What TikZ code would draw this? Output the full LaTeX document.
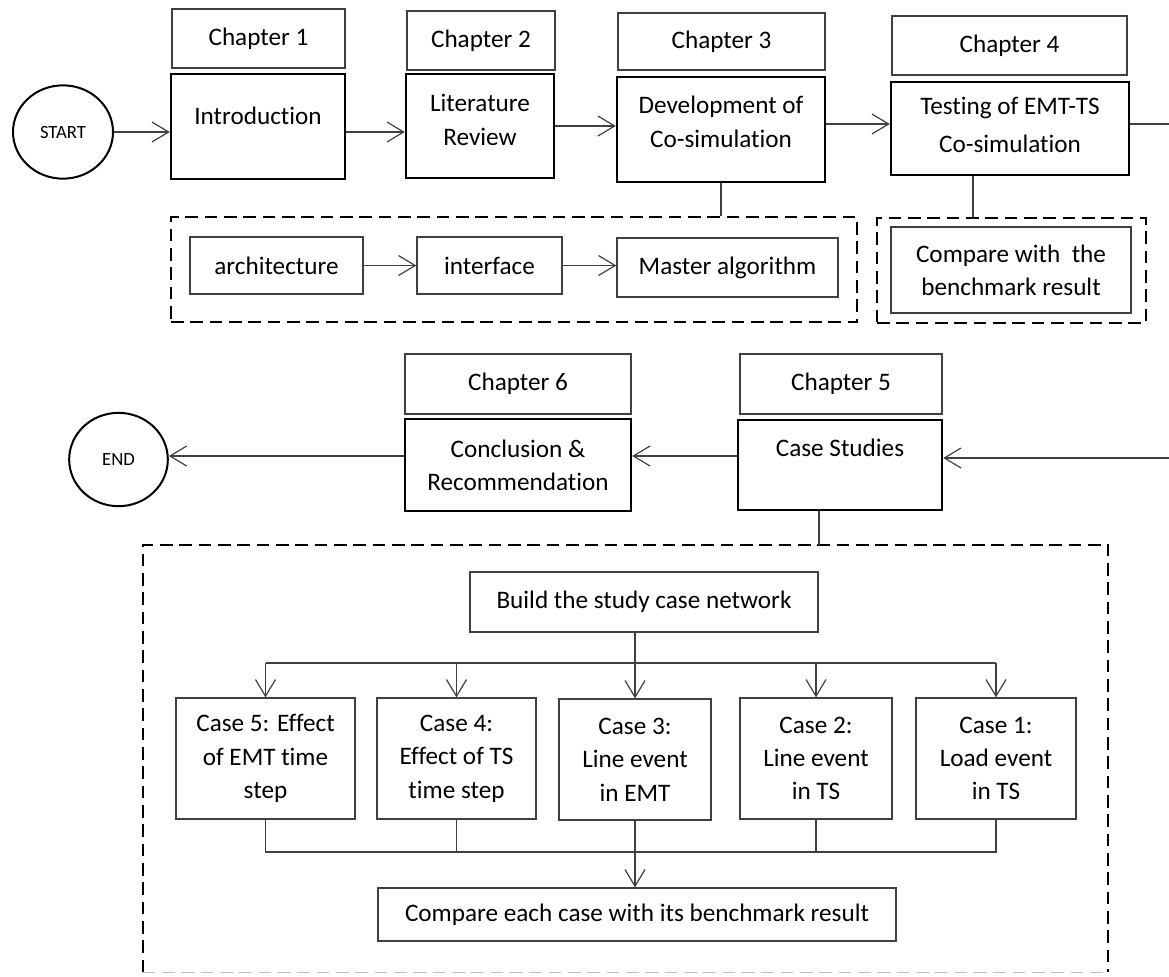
\documentclass[tikz,border=0pt]{standalone}
\usepackage{fontspec}
\setmainfont{Carlito}[Ligatures=NoCommon]
\usetikzlibrary{arrows.meta,fit,shapes.geometric}
\begin{document}
\begin{tikzpicture}[x=0.75pt,y=-0.75pt,
  font=\fontsize{18.9}{25}\selectfont,
  plain/.style={draw=black!75, line width=1pt, inner sep=0pt},
  heavy/.style={draw=black, line width=1.8pt, inner sep=0pt},
  group/.style={draw=black, line width=1.8pt, dash pattern=on 9.5pt off 5pt},
  terminal/.style={ellipse, draw=black, line width=1.5pt, minimum width=75pt,
    minimum height=70pt, inner sep=0pt, font=\fontsize{14}{16}\selectfont},
  txt/.style={align=center, inner sep=0pt},
  link/.style={draw=black!75, line width=0.9pt},
  flow/.style={link, -{Straight Barb[length=12.5pt,width=15pt,line width=0.9pt]}},
]
\useasboundingbox (0,0) rectangle (1169,976);

% ---------- first row: chapters 1-4 ----------
\node[terminal] (start) at (63,132) {START};

\node[plain, fit={(172,9) (345,68)}] (ch1) {};
\node[txt] (ch1-t) at (ch1) {Chapter 1};
\node[heavy, fit={(171,74) (345,179)}] (intro) {};
\node[txt] (intro-t) at (258,116) {Introduction};

\node[plain, fit={(407,11) (555,70)}] (ch2) {};
\node[txt] (ch2-t) at (ch2) {Chapter 2};
\node[heavy, fit={(406,74) (554,178)}] (lit) {};
\node[txt] (lit-t) at (480,120) {Literature\\Review};

\node[plain, fit={(618,13) (825,70)}] (ch3) {};
\node[txt] (ch3-t) at (ch3) {Chapter 3};
\node[heavy, fit={(617,77) (825,182)}] (dev) {};
\node[txt] (dev-t) at (721,122) {Development of\\Co-simulation};

\node[plain, fit={(892,16) (1127,75)}] (ch4) {};
\node[txt] (ch4-t) at (ch4) {Chapter 4};
\node[heavy, fit={(891,82) (1129,175)}] (test) {};
\node[txt] (test-t) at (1010,125) {Testing of EMT-TS\\[3pt]Co-simulation};

% ---------- details of chapters 3 and 4 ----------
\node[group, inner sep=0pt, fit={(171,217) (857,322)}] (g3) {};
\node[plain, fit={(190,237) (363,294)}] (arch) {};
\node[txt] (arch-t) at (arch) {architecture};
\node[plain, fit={(417,237) (562,294)}] (intf) {};
\node[txt] (intf-t) at (intf) {interface};
\node[plain, fit={(617,238) (838,297)}] (master) {};
\node[txt] (master-t) at (master) {Master algorithm};

\node[group, inner sep=0pt, fit={(877,218) (1146,323)}] (g4) {};
\node[plain, fit={(891,227) (1131,313)}] (cmp1) {};
\node[txt] (cmp1-t) at (cmp1) {Compare with\ \ the\\benchmark result};

% ---------- second row: chapters 5 and 6 ----------
\node[terminal, minimum width=74pt] (stop) at (118.5,459.5) {END};

\node[plain, fit={(405,354) (631,414)}] (ch6) {};
\node[txt] (ch6-t) at (ch6) {Chapter 6};
\node[heavy, fit={(405,419) (631,511)}] (concl) {};
\node[txt] (concl-t) at (concl) {Conclusion \&\\Recommendation};

\node[plain, fit={(740,354) (942,414)}] (ch5) {};
\node[txt] (ch5-t) at (ch5) {Chapter 5};
\node[heavy, fit={(738,420) (942,510)}] (cs) {};
\node[txt] (cs-t) at (840,448) {Case Studies};

% ---------- details of chapter 5 ----------
\node[inner sep=0pt, fit={(143,545) (1108,972)}] (g5) {};
\draw[group] (g5.south west) -- (g5.north west) -- (g5.north east) -- (g5.south east);
\draw[group, draw=black!25, line width=1pt] (g5.south west) -- (g5.south east);

\node[plain, fit={(470,572) (818,632)}] (build) {};
\node[txt] (build-t) at (build) {Build the study case network};
\node[plain, fit={(176,698) (355,819)}] (c5) {};
\node[txt] (c5-t) at (c5) {Case 5: Effect\\of EMT time\\step};
\node[plain, fit={(377,698) (536,819)}] (c4) {};
\node[txt] (c4-t) at (c4) {Case 4:\\Effect of TS\\time step};
\node[plain, fit={(559,699) (711,820)}] (c3) {};
\node[txt] (c3-t) at (c3) {Case 3:\\Line event\\in EMT};
\node[plain, fit={(740,698) (892,819)}] (c2) {};
\node[txt] (c2-t) at (c2) {Case 2:\\Line event\\in TS};
\node[plain, fit={(916,698) (1076,819)}] (c1) {};
\node[txt] (c1-t) at (c1) {Case 1:\\Load event\\in TS};
\node[plain, fit={(378,888) (896,941)}] (cmp) {};
\node[txt] (cmp-t) at (cmp) {Compare each case with its benchmark result};

% ---------- connectors ----------
\coordinate (r1) at (1169,124);
\draw[flow] (start.east) -- (intro.west |- start.east);
\draw[flow] (intro.east |- start.east) -- (lit.west |- start.east);
\draw[flow] (lit.east) -- (dev.west |- lit.east);
\draw[flow] (dev.east |- r1) -- (test.west |- r1);
\draw[link] (test.east |- r1) -- (r1);

\draw[link] (dev.south) -- (dev.south |- g3.north);
\coordinate (tdrop) at ([xshift=-27.75pt]test.south);
\draw[link] (tdrop) -- (tdrop |- g4.north);

\draw[flow] (arch.east) -- (intf.west |- arch.east);
\draw[flow] (intf.east) -- (master.west |- intf.east);

\coordinate (r2) at (0,456);
\coordinate (rin) at (1169,458);
\draw[flow] (rin) -- (cs.east |- rin);
\draw[flow] (cs.west |- r2) -- (concl.east |- r2);
\draw[flow] (concl.west |- r2) -- (stop.east |- r2);

\coordinate (cdrop) at ([xshift=-15.75pt]cs.south);
\draw[link] (cdrop) -- (cdrop |- g5.north);

\coordinate (bus) at (0,663);
\coordinate (join) at (0,852);
\draw[flow] (build.south -| c3.north) -- (c3.north);
\draw[link] (c5.north |- bus) -- (c1.north |- bus);
\foreach \c in {c5,c4,c2,c1}
  \draw[flow] (\c.north |- bus) -- (\c.north);
\draw[link] (c5.south) -- (c5.south |- join) -- (c1.south |- join) -- (c1.south);
\draw[link] (c4.south) -- (c4.south |- join);
\draw[link] (c2.south) -- (c2.south |- join);
\draw[flow] (c3.south) -- (cmp.north -| c3.south);
\end{tikzpicture}
\end{document}
